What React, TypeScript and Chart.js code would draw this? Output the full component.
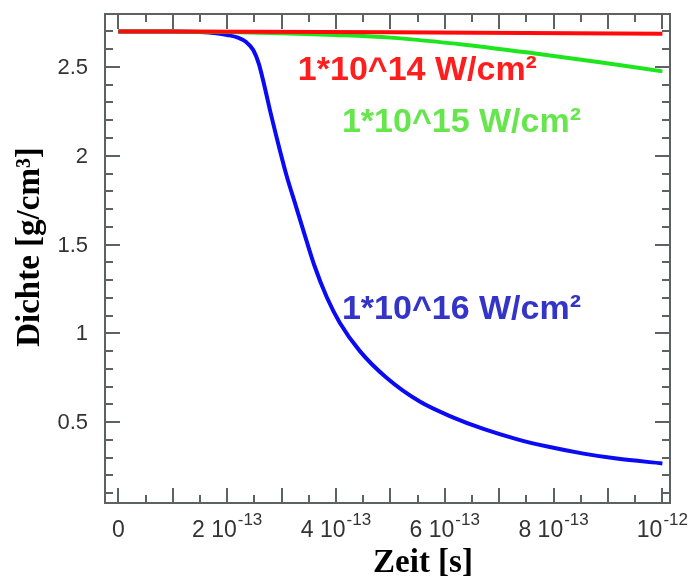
import React, { useEffect, useRef } from "react";
import { Chart, registerables } from "chart.js";

Chart.register(...registerables);

// ---- data (time in seconds, density in g/cm³) ----
const timeRed = [0, 0.25e-12, 0.5e-12, 0.75e-12, 1.0e-12];
const densRed = [2.7, 2.698, 2.695, 2.691, 2.687];

const timeGreen = [0, 0.1e-12, 0.2e-12, 0.3e-12, 0.4e-12, 0.5e-12, 0.64e-12, 0.763e-12, 0.885e-12, 1.0e-12];
const densGreen = [2.7, 2.699, 2.697, 2.69, 2.68, 2.665, 2.624, 2.577, 2.526, 2.475];

const timeBlue = [
  0, 0.1e-12, 0.15e-12, 0.18e-12, 0.2e-12, 0.22e-12, 0.235e-12, 0.248e-12, 0.258e-12, 0.268e-12,
  0.28e-12, 0.297e-12, 0.31e-12, 0.325e-12, 0.34e-12, 0.36e-12, 0.383e-12, 0.407e-12, 0.444e-12,
  0.493e-12, 0.554e-12, 0.616e-12, 0.671e-12, 0.732e-12, 0.793e-12, 0.855e-12, 0.916e-12, 1.0e-12,
];
const densBlue = [
  2.7, 2.7, 2.697, 2.69, 2.68, 2.665, 2.64, 2.595, 2.52, 2.4,
  2.24, 2.03, 1.88, 1.73, 1.58, 1.385, 1.205, 1.06, 0.9,
  0.75, 0.616, 0.526, 0.462, 0.405, 0.36, 0.323, 0.295, 0.268,
];

const seriesNames = ["1*10^14 W/cm²", "1*10^15 W/cm²", "1*10^16 W/cm²"];

const yTickValues = [0.5, 1, 1.5, 2, 2.5];
const yTickLabels = ["0.5", "1", "1.5", "2", "2.5"];

const xTickValues = [0, 2e-13, 4e-13, 6e-13, 8e-13, 1e-12];
const xTickMantissa = ["0", "2 10", "4 10", "6 10", "8 10", "10"];
const xTickExponent = ["", "-13", "-13", "-13", "-13", "-12"];

const xTitle = "Zeit [s]";
const yTitle = "Dichte [g/cm³]";

// ---- styling / layout ----
const COLORS = {
  red: "#ff0a0a",
  green: "#1ee61e",
  blue: "#0a0af5",
  redText: "#ff1e1e",
  greenText: "#66e64c",
  blueText: "#3434c8",
  frame: "#5c6262",
  tickText: "#333333",
};

// label anchors in data coordinates (x in s, y = baseline density)
const labelAnchors = [
  { x: 0.33e-12, y: 2.427 },
  { x: 0.411e-12, y: 2.134 },
  { x: 0.411e-12, y: 1.081 },
];
const labelColors = [COLORS.redText, COLORS.greenText, COLORS.blueText];

const toXY = (xs: number[], ys: number[]) => xs.map((x, i) => ({ x, y: ys[i] }));

const decorPlugin = {
  id: "decor",
  afterDatasetsDraw(chart: any) {
    const { ctx, chartArea: a, scales } = chart;
    const x = scales.x;
    const y = scales.y;
    ctx.save();
    ctx.strokeStyle = COLORS.frame;
    ctx.lineWidth = 2;
    ctx.strokeRect(a.left, a.top, a.right - a.left, a.bottom - a.top);
    ctx.beginPath();
    for (let i = 0; i <= 20; i++) {
      const px = Math.round(x.getPixelForValue(i * 0.5e-13));
      const len = i % 2 === 0 ? 15 : 8;
      ctx.moveTo(px, a.bottom);
      ctx.lineTo(px, a.bottom - len);
      ctx.moveTo(px, a.top);
      ctx.lineTo(px, a.top + len);
    }
    for (let i = 1; i <= 27; i++) {
      const py = Math.round(y.getPixelForValue(i * 0.1));
      const len = i % 5 === 0 ? 15 : 8;
      ctx.moveTo(a.left, py);
      ctx.lineTo(a.left + len, py);
      ctx.moveTo(a.right, py);
      ctx.lineTo(a.right - len, py);
    }
    ctx.stroke();

    // y tick labels
    ctx.fillStyle = COLORS.tickText;
    ctx.font = "22px 'Liberation Sans', Arial, sans-serif";
    ctx.textAlign = "right";
    ctx.textBaseline = "middle";
    yTickValues.forEach((v, i) => {
      ctx.fillText(yTickLabels[i], a.left - 17, y.getPixelForValue(v) + 1);
    });

    // x tick labels with superscripts
    ctx.textAlign = "left";
    ctx.textBaseline = "alphabetic";
    const mainFont = "23px 'Liberation Sans', Arial, sans-serif";
    const supFont = "17px 'Liberation Sans', Arial, sans-serif";
    xTickValues.forEach((v, i) => {
      const px = x.getPixelForValue(v);
      ctx.font = mainFont;
      const w1 = ctx.measureText(xTickMantissa[i]).width;
      ctx.font = supFont;
      const w2 = xTickExponent[i] ? ctx.measureText(xTickExponent[i]).width + 1 : 0;
      const start = px - (w1 + w2) / 2;
      ctx.font = mainFont;
      ctx.fillText(xTickMantissa[i], start, a.bottom + 34);
      if (xTickExponent[i]) {
        ctx.font = supFont;
        ctx.fillText(xTickExponent[i], start + w1 + 1, a.bottom + 22);
      }
    });

    // axis titles
    ctx.fillStyle = "#000";
    ctx.font = "bold 33px 'Liberation Serif', 'Times New Roman', serif";
    ctx.textAlign = "center";
    ctx.fillText(xTitle, 423, a.bottom + 69);
    ctx.save();
    ctx.translate(39, 247);
    ctx.rotate(-Math.PI / 2);
    ctx.textBaseline = "alphabetic";
    ctx.fillText(yTitle, 0, 0);
    ctx.restore();

    // series labels
    ctx.font = "bold 34px 'Liberation Sans', Arial, sans-serif";
    ctx.textAlign = "left";
    ctx.textBaseline = "alphabetic";
    seriesNames.forEach((name, i) => {
      ctx.fillStyle = labelColors[i];
      ctx.fillText(name, x.getPixelForValue(labelAnchors[i].x), y.getPixelForValue(labelAnchors[i].y));
    });
    ctx.restore();
  },
};

export default function App() {
  const ref = useRef<HTMLCanvasElement | null>(null);
  useEffect(() => {
    document.body.style.margin = "0";
    const canvas = ref.current;
    if (!canvas) return;
    const chart = new Chart(canvas, {
      type: "line",
      data: {
        datasets: [
          {
            label: seriesNames[0],
            data: toXY(timeRed, densRed),
            borderColor: COLORS.red,
            borderWidth: 4,
            pointRadius: 0,
            cubicInterpolationMode: "monotone",
          },
          {
            label: seriesNames[1],
            data: toXY(timeGreen, densGreen),
            borderColor: COLORS.green,
            borderWidth: 4,
            pointRadius: 0,
            cubicInterpolationMode: "monotone",
          },
          {
            label: seriesNames[2],
            data: toXY(timeBlue, densBlue),
            borderColor: COLORS.blue,
            borderWidth: 4,
            pointRadius: 0,
            cubicInterpolationMode: "monotone",
          },
        ],
      },
      options: {
        responsive: false,
        animation: false,
        devicePixelRatio: 1,
        layout: { padding: { left: 105, right: 21, top: 14, bottom: 75 } },
        plugins: { legend: { display: false }, tooltip: { enabled: false }, title: { display: false } },
        scales: {
          x: { type: "linear", min: -0.0245e-12, max: 1.014e-12, display: false },
          y: { type: "linear", min: 0.045, max: 2.798, display: false },
        },
      },
      plugins: [decorPlugin],
    });
    return () => chart.destroy();
  }, []);
  return <canvas ref={ref} width={691} height={578} style={{ display: "block" }} />;
}
